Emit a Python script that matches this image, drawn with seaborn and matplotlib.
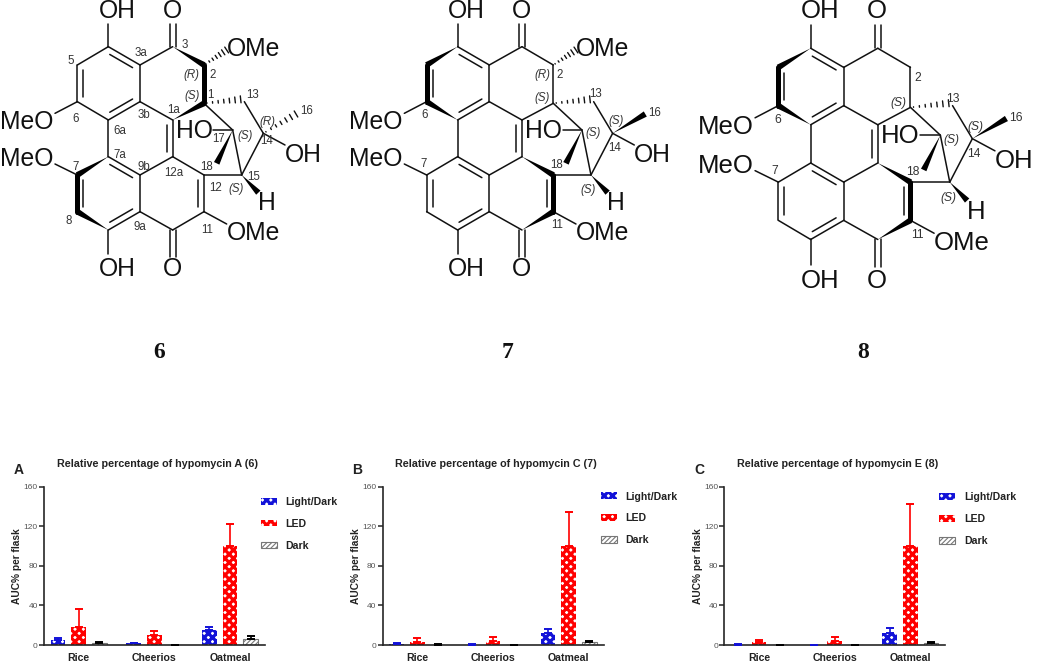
import numpy as np
import pandas as pd
import seaborn as sns
import matplotlib.pyplot as plt
from matplotlib.patches import Patch, Polygon

# Bar chart data
foods = ["Rice", "Cheerios", "Oatmeal"]
conditions = ["Light/Dark", "LED", "Dark"]

a_light = [5, 2, 15]
a_led = [18, 10, 100]
a_dark = [2, 0, 6]
a_light_err = [2, 0.5, 3]
a_led_err = [18, 4, 22]
a_dark_err = [1, 0, 3]

b_light = [1, 0.5, 12]
b_led = [3, 4, 100]
b_dark = [0.5, 0, 3]
b_light_err = [1, 0.5, 4]
b_led_err = [4, 4, 34]
b_dark_err = [0.5, 0, 1]

c_light = [0.5, 0, 12]
c_led = [3, 4, 100]
c_dark = [0.3, 0, 2]
c_light_err = [0.3, 0, 5]
c_led_err = [2, 4, 43]
c_dark_err = [0.2, 0, 1]

titles = ["Relative percentage of hypomycin A (6)",
          "Relative percentage of hypomycin C (7)",
          "Relative percentage of hypomycin E (8)"]
letters = ["A", "B", "C"]
yticks = [0, 40, 80, 120, 160]

# Skeleton of the molecules, in units of 1/3 px relative to the first one
atoms = {
    "c4": (325, 140), "c3a": (420, 195), "c3b": (420, 305), "c6a": (325, 360),
    "c6": (232, 305), "c5": (232, 195), "c3": (518, 140), "o3": (518, 72),
    "c2": (612, 195), "c1": (612, 310), "c1a": (518, 360), "c12a": (518, 470),
    "c7a": (325, 470), "c9b": (420, 525), "c9a": (420, 635), "c9": (325, 690),
    "c8": (232, 635), "c7": (232, 525), "c10": (518, 690), "o10": (518, 770),
    "c11": (612, 635), "c12": (612, 525), "c17": (698, 390), "c15": (725, 525),
    "c14": (790, 400), "c13": (733, 305), "oh4": (325, 72), "oh9": (325, 762),
    "o6": (165, 340), "o7": (165, 492), "o11": (680, 672), "ho": (640, 390),
    "oh14": (855, 435), "o2": (680, 150), "h15": (775, 578), "me17": (650, 490),
    "h13": (722, 298), "me16": (888, 342),
}
plain_bonds = [
    ("c4", "c3a"), ("c3a", "c3b"), ("c3b", "c6a"), ("c6a", "c7a"), ("c3a", "c3"),
    ("c3b", "c1a"), ("c1a", "c12a"), ("c12a", "c9b"), ("c12a", "c12"), ("c7a", "c9b"),
    ("c9b", "c9a"), ("c9a", "c9"), ("c9a", "c10"), ("c10", "c11"), ("c11", "c12"),
    ("c12", "c15"), ("c15", "c17"), ("c15", "c14"), ("c14", "c13"), ("c1", "c17"),
    ("c17", "ho"), ("c14", "oh14"), ("c4", "oh4"), ("c9", "oh9"), ("c6", "o6"),
    ("c7", "o7"), ("c11", "o11"), ("c4", "c5"), ("c5", "c6"), ("c6", "c6a"),
    ("c7a", "c7"), ("c7", "c8"), ("c8", "c9"), ("c3", "c2"), ("c2", "c1"), ("c1", "c1a"),
]
inner_bonds = [
    ("c5", "c6", (325, 250)), ("c4", "c3a", (325, 250)), ("c3b", "c6a", (325, 250)),
    ("c7", "c8", (325, 580)), ("c7a", "c9b", (325, 580)), ("c9a", "c9", (325, 580)),
    ("c1a", "c12a", (420, 415)), ("c12", "c11", (518, 580)),
]

# wedge (thin end, wide end), thick bond, hashed bond, per molecule
mol6_wedges = [("c3", "c2"), ("c1a", "c1"), ("c7a", "c7"), ("c9", "c8"), ("c17", "me17"), ("c15", "h15")]
mol6_thick = [("c2", "c1"), ("c7", "c8")]
mol6_hash = [("c2", "o2"), ("c1", "h13"), ("c14", "me16")]
mol7_wedges = [("c4", "c5"), ("c6a", "c6"), ("c12a", "c12"), ("c10", "c11"), ("c17", "me17"), ("c15", "h15"), ("c14", "me16")]
mol7_thick = [("c5", "c6"), ("c12", "c11")]
mol7_hash = [("c2", "o2"), ("c1", "h13")]
mol8_hash = [("c1", "h13")]

big_text = [("OH", 352, 26), ("O", 516, 26), ("OH", 352, 801), ("O", 516, 801), ("MeO", 80, 358),
            ("MeO", 80, 471), ("OMe", 760, 693), ("HO", 583, 386), ("OH", 910, 456), ("H", 800, 603)]
mol6_small = [("3", 553, 130), ("3a", 422, 155), ("5", 213, 178), ("(R)", 575, 220), ("2", 638, 222),
              ("(S)", 577, 283), ("1", 632, 280), ("13", 757, 280), ("16", 920, 330), ("1a", 522, 325),
              ("3b", 432, 342), ("6", 227, 352), ("6a", 358, 388), ("7a", 358, 460), ("7", 228, 495),
              ("9b", 432, 495), ("12a", 522, 513), ("18", 620, 495), ("17", 657, 412), ("(S)", 735, 405),
              ("(R)", 803, 362), ("14", 800, 418), ("15", 760, 525), ("12", 648, 560), ("(S)", 707, 562),
              ("11", 620, 685), ("9a", 420, 675), ("8", 207, 660)]
mol7_small = [("(R)", 580, 220), ("2", 632, 222), ("(S)", 579, 290), ("13", 739, 277), ("16", 917, 335),
              ("(S)", 802, 358), ("(S)", 732, 395), ("14", 796, 440), ("6", 227, 340), ("7", 222, 487),
              ("18", 622, 490), ("(S)", 717, 565), ("11", 622, 672)]
mol8_small = [("2", 633, 222), ("(S)", 577, 294), ("13", 735, 281), ("16", 916, 337),
              ("(S)", 800, 361), ("(S)", 730, 399), ("14", 795, 440), ("6", 229, 343), ("7", 222, 488),
              ("18", 618, 492), ("(S)", 720, 567), ("11", 633, 674)]

sns.set_style("ticks")
plt.rcParams["font.family"] = ["Liberation Sans", "DejaVu Sans"]

fig = plt.figure(figsize=(10.5, 6.62), dpi=100)
W, H = 1050, 662

# Full-figure axes in pixel coordinates for the structures
canvas = fig.add_axes([0, 0, 1, 1])
canvas.set_xlim(0, W)
canvas.set_ylim(H, 0)
canvas.axis("off")


def draw_molecule(ox, oy, s, wedges, thick, hashed, small, has_ome2=True, fs=17.8):
    def xy(p):
        return np.array([ox + s * p[0] / 3, oy + s * p[1] / 3])

    skip = set(wedges) | set(thick)
    for a, b in plain_bonds:
        if (a, b) in skip or (b, a) in skip:
            continue
        p, q = xy(atoms[a]), xy(atoms[b])
        canvas.plot([p[0], q[0]], [p[1], q[1]], color="#111111", lw=1.1, solid_capstyle="round")
    for a, b, c in inner_bonds:
        p, q, m = xy(atoms[a]), xy(atoms[b]), xy(c)
        d = q - p
        n = np.array([-d[1], d[0]]) / np.linalg.norm(d)
        if np.dot(m - p, n) < 0:
            n = -n
        p2 = p + d * 0.14 + n * 6
        q2 = q - d * 0.14 + n * 6
        canvas.plot([p2[0], q2[0]], [p2[1], q2[1]], color="#111111", lw=1.1)
    for o, c in [("o3", "c3"), ("o10", "c10")]:
        p, q = xy(atoms[o]), xy(atoms[c])
        for dx in (-3, 3):
            canvas.plot([p[0] + dx, q[0] + dx], [p[1], q[1]], color="#111111", lw=1.1)
    for a, b in wedges:
        p, q = xy(atoms[a]), xy(atoms[b])
        d = q - p
        n = np.array([-d[1], d[0]]) / np.linalg.norm(d)
        canvas.add_patch(Polygon([p, q + n * 3, q - n * 3], closed=True, color="black", lw=0))
    for a, b in thick:
        p, q = xy(atoms[a]), xy(atoms[b])
        canvas.plot([p[0], q[0]], [p[1], q[1]], color="black", lw=3.6, solid_capstyle="round")
    for a, b in hashed:
        p, q = xy(atoms[a]), xy(atoms[b])
        d = q - p
        n = np.array([-d[1], d[0]]) / np.linalg.norm(d)
        for t in np.linspace(0.08, 1, 7):
            c = p + d * t
            w = 3.5 * t
            canvas.plot([c[0] - n[0] * w, c[0] + n[0] * w], [c[1] - n[1] * w, c[1] + n[1] * w],
                        color="#111111", lw=1.0)
    rows = list(big_text)
    if has_ome2:
        rows.append(("OMe", 760, 138))
    for t, x, y in rows:
        px = xy((x, y))
        canvas.text(px[0], px[1], t, ha="center", va="center_baseline", fontsize=fs * s, color="#111111")
    for t, x, y in small:
        px = xy((x, y))
        canvas.text(px[0], px[1], t, ha="center", va="center_baseline", fontsize=8.3 * s, color="#333333",
                    style="italic" if t.startswith("(") else "normal")


draw_molecule(0, 0, 1.0, mol6_wedges, mol6_thick, mol6_hash, mol6_small)
draw_molecule(349.3, 0, 1.0, mol7_wedges, mol7_thick, mol7_hash, mol7_small)
draw_molecule(697.7, -0.4, 1.043, mol7_wedges, mol7_thick, mol8_hash, mol8_small, has_ome2=False)

for label, x, y in [("6", 159, 353), ("7", 507.7, 352), ("8", 862.7, 353)]:
    canvas.text(x, y, label, ha="center", va="center", fontsize=17, fontweight="bold",
                family="Liberation Serif", color="#111111")

# Bar panels
panels = [
    (44.0, 503.0, 260.7, [a_light, a_led, a_dark], [a_light_err, a_led_err, a_dark_err]),
    (382.7, 497.5, 600.7, [b_light, b_led, b_dark], [b_light_err, b_led_err, b_dark_err]),
    (724.3, 498.5, 939.3, [c_light, c_led, c_dark], [c_light_err, c_led_err, c_dark_err]),
]
title_x = [157.5, 496, 838]
letter_x = [18.3, 356.7, 699]
colors = {"Light/Dark": "#ffffff", "LED": "#ffffff", "Dark": "#ffffff"}
err_colors = ["#1212d8", "#ff0000", "black"]
hatches = ["xxxx", "xxxx", "///////"]
edges = ["#1212d8", "#ff0000", "#777777"]
hatch_lw = [2.3, 2.3, 0.8]
edge_lw = [0, 0, 0.8]

for i, (left, leg_y, leg_x, values, errs) in enumerate(panels):
    ax = fig.add_axes([left / W, (H - 645) / H, 221 / W, (645 - 486.7) / H], facecolor="none")
    df = pd.DataFrame({
        "food": foods * 3,
        "condition": [c for c in conditions for _ in foods],
        "auc": values[0] + values[1] + values[2],
    })
    sns.barplot(data=df, x="food", y="auc", hue="condition", order=foods, hue_order=conditions,
                palette=colors, saturation=1, width=0.82, gap=0.29, errorbar=None, legend=False, ax=ax)
    for j, bars in enumerate(list(ax.containers)):
        xs = []
        for b in bars:
            b.set_hatch(hatches[j])
            b.set_hatch_linewidth(hatch_lw[j])
            b.set_edgecolor(edges[j])
            b.set_linewidth(edge_lw[j])
            xs.append(b.get_x() + b.get_width() / 2)
        ax.errorbar(xs, values[j], yerr=[[0] * 3, errs[j]], fmt="none", ecolor=err_colors[j],
                    elinewidth=1.2, capsize=2.6, capthick=1.4, zorder=3)
    ax.set_xlim(-0.458, 2.462)
    ax.set_ylim(0, 160)
    ax.set_yticks(yticks)
    ax.set_xlabel("")
    ax.set_ylabel("AUC% per flask", fontsize=7.3, fontweight="bold", labelpad=1, color="#222222")
    ax.tick_params(axis="y", length=3.5, width=1.1, labelsize=6, labelcolor="#555555", pad=1)
    ax.tick_params(axis="x", length=0, pad=6)
    for t in ax.get_xticklabels():
        t.set_fontsize(7.6)
        t.set_fontweight("bold")
        t.set_color("#222222")
    ax.spines["top"].set_visible(False)
    ax.spines["right"].set_visible(False)
    ax.spines["left"].set_linewidth(1.2)
    ax.spines["bottom"].set_linewidth(1.2)

    handles = [Patch(facecolor=colors[c], edgecolor=edges[j], hatch=hatches[j], lw=edge_lw[j], label=c)
               for j, c in enumerate(conditions)]
    leg = ax.legend(handles=handles, loc="upper left", bbox_to_anchor=(leg_x / W, 1 - (leg_y - 6) / H),
                    bbox_transform=fig.transFigure, frameon=False, borderpad=0, borderaxespad=0,
                    handlelength=1.52, handleheight=0.6, handletextpad=0.82, labelspacing=1.12,
                    prop={"size": 7.6, "weight": "bold"}, labelcolor="#222222")
    for j, p in enumerate(leg.get_patches()):
        p.set_hatch_linewidth(hatch_lw[j])

    canvas.text(title_x[i], 463.7, titles[i], ha="center", va="center", fontsize=7.75,
                fontweight="bold", color="#222222")
    canvas.text(letter_x[i], 470, letters[i], ha="center", va="center", fontsize=10,
                fontweight="bold", color="#222222")

fig.savefig("out.png", dpi=100)
plt.close(fig)
